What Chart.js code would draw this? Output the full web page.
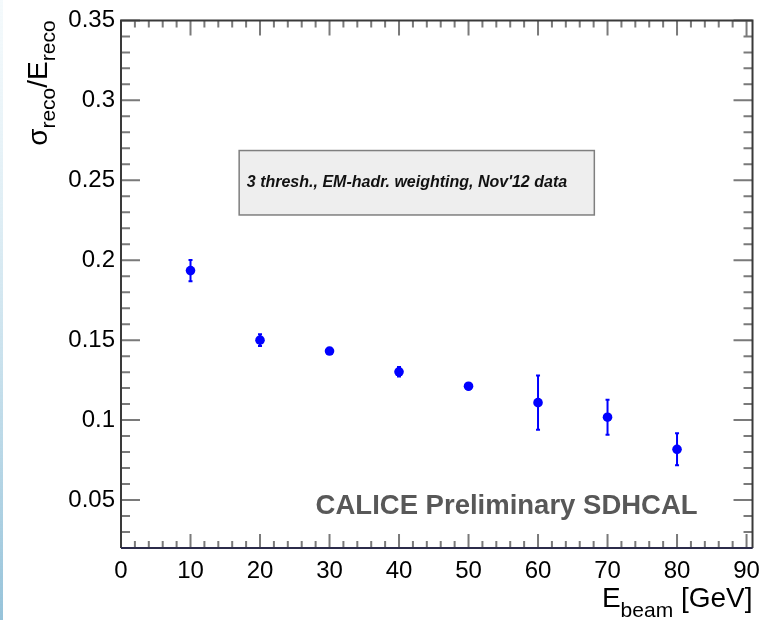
<!DOCTYPE html>
<html>
<head>
<meta charset="utf-8">
<script src="https://cdn.jsdelivr.net/npm/chart.js@4/dist/chart.umd.min.js"></script>
<style>
  html, body { margin: 0; padding: 0; background: #fff; }
  #wrap { width: 769px; height: 620px; }
</style>
</head>
<body>
<div id="wrap"><canvas id="chart" width="769" height="620"></canvas></div>
<script>
// beam energies (GeV) and relative resolution
const energies = [10, 20, 30, 40, 50, 60, 70, 80];
const resolution = [0.1935, 0.150, 0.1432, 0.1302, 0.1212, 0.1109, 0.1018, 0.0817];
const resErrors = [0.0067, 0.0037, 0.0010, 0.0030, 0.0020, 0.0170, 0.0110, 0.0100];

const xTicks = [0, 10, 20, 30, 40, 50, 60, 70, 80, 90];
const yTicks = [0.05, 0.1, 0.15, 0.2, 0.25, 0.3, 0.35];

const FONT = '"Liberation Sans", Arial, Helvetica, sans-serif';

// frame + ROOT-style inner tick marks
const framePlugin = {
  id: 'frame',
  beforeDraw(chart) {
    const ctx = chart.ctx;
    // faint blue strip on the left edge of the screenshot
    const g = ctx.createLinearGradient(0, 0, 0, chart.height);
    g.addColorStop(0, 'rgba(220,238,245,0.3)');
    g.addColorStop(1, 'rgba(150,195,218,1)');
    ctx.save();
    ctx.fillStyle = g;
    ctx.fillRect(0, 0, 3, chart.height);
    ctx.restore();
  },
  afterDraw(chart) {
    const { ctx, chartArea: a } = chart;
    const xs = chart.scales.x, ys = chart.scales.y;
    ctx.save();
    ctx.strokeStyle = '#7a7a7a';
    ctx.lineWidth = 2;
    ctx.beginPath();
    for (let v = 0; v <= 90.001; v += 2) {
      const px = xs.getPixelForValue(v);
      const major = Math.abs(v / 10 - Math.round(v / 10)) < 1e-6;
      ctx.moveTo(px, a.bottom); ctx.lineTo(px, a.bottom - (major ? 14 : 7));
      ctx.moveTo(px, a.top); ctx.lineTo(px, a.top + (major ? 15 : 7));
    }
    for (let i = 2; i <= 35; i++) {
      const v = i / 100;
      const py = ys.getPixelForValue(v);
      const major = i % 5 === 0;
      ctx.moveTo(a.left, py); ctx.lineTo(a.left + (major ? 19 : 9), py);
      ctx.moveTo(a.right, py); ctx.lineTo(a.right - (major ? 19 : 9), py);
    }
    ctx.stroke();

    ctx.lineWidth = 2;
    ctx.strokeStyle = '#3a3a3a';
    ctx.beginPath();
    ctx.moveTo(a.left, a.bottom); ctx.lineTo(a.left, a.top); ctx.lineTo(a.right, a.top); ctx.lineTo(a.right, a.bottom);
    ctx.stroke();
    ctx.strokeStyle = '#2b2b4a';
    ctx.beginPath();
    ctx.moveTo(a.left, a.bottom); ctx.lineTo(a.right, a.bottom);
    ctx.stroke();

    // x title: E_beam [GeV], right aligned to the frame
    ctx.fillStyle = '#000';
    ctx.textBaseline = 'alphabetic';
    const big = '28px ' + FONT, small = '21px ' + FONT;
    ctx.font = big;
    const wE = ctx.measureText('E').width;
    const wG = ctx.measureText(' [GeV]').width;
    ctx.font = small;
    const wB = ctx.measureText('beam').width;
    let x0 = a.right - (wE + wB + wG);
    const base = 607;
    ctx.font = big; ctx.textAlign = 'left';
    ctx.fillText('E', x0, base);
    ctx.font = small; ctx.fillText('beam', x0 + wE, base + 10);
    ctx.font = big; ctx.fillText(' [GeV]', x0 + wE + wB, base);

    // y title: sigma_reco / E_reco, rotated, right aligned to frame top
    ctx.translate(47, a.top);
    ctx.rotate(-Math.PI / 2);
    const parts = [['\u03c3', big, 0], ['reco', small, 8], ['/E', big, 0], ['reco', small, 8]];
    let total = 0;
    parts.forEach(p => { ctx.font = p[1]; total += ctx.measureText(p[0]).width; });
    let cx = -total;
    parts.forEach(p => {
      ctx.font = p[1];
      ctx.fillText(p[0], cx, p[2]);
      cx += ctx.measureText(p[0]).width;
    });
    ctx.restore();
  }
};

// vertical error bars, drawn under the markers
const errorBarPlugin = {
  id: 'errorBars',
  beforeDatasetsDraw(chart) {
    const { ctx } = chart;
    const xs = chart.scales.x, ys = chart.scales.y;
    ctx.save();
    ctx.strokeStyle = '#0000ff';
    ctx.lineWidth = 2;
    energies.forEach((e, i) => {
      const px = xs.getPixelForValue(e);
      const top = ys.getPixelForValue(resolution[i] + resErrors[i]);
      const bot = ys.getPixelForValue(resolution[i] - resErrors[i]);
      ctx.beginPath();
      ctx.moveTo(px, top); ctx.lineTo(px, bot);
      ctx.moveTo(px - 2, top); ctx.lineTo(px + 2, top);
      ctx.moveTo(px - 2, bot); ctx.lineTo(px + 2, bot);
      ctx.stroke();
    });
    ctx.restore();
  }
};

// info box and CALICE label, placed in data coordinates
const labelPlugin = {
  id: 'labels',
  afterDatasetsDraw(chart) {
    const { ctx } = chart;
    const xs = chart.scales.x, ys = chart.scales.y;
    const bx0 = xs.getPixelForValue(17), bx1 = xs.getPixelForValue(68.1);
    const by0 = ys.getPixelForValue(0.2686), by1 = ys.getPixelForValue(0.2283);
    ctx.save();
    ctx.fillStyle = '#eeeeee';
    ctx.fillRect(bx0, by0, bx1 - bx0, by1 - by0);
    ctx.strokeStyle = '#7f7f7f';
    ctx.lineWidth = 1.5;
    ctx.strokeRect(bx0, by0, bx1 - bx0, by1 - by0);
    ctx.fillStyle = '#111';
    ctx.font = 'italic bold 16px ' + FONT;
    ctx.textAlign = 'left';
    ctx.textBaseline = 'middle';
    ctx.fillText("3 thresh., EM-hadr. weighting, Nov'12 data", xs.getPixelForValue(18.1), ys.getPixelForValue(0.2485));

    ctx.fillStyle = '#585858';
    ctx.font = 'bold 27.5px ' + FONT;
    ctx.fillText('CALICE Preliminary SDHCAL', xs.getPixelForValue(28), ys.getPixelForValue(0.0463));
    ctx.restore();
  }
};

new Chart(document.getElementById('chart'), {
  type: 'scatter',
  data: {
    datasets: [{
      data: energies.map((e, i) => ({ x: e, y: resolution[i] })),
      backgroundColor: '#0000ff',
      borderColor: '#0000ff',
      pointRadius: 4.8,
      pointBorderWidth: 0
    }]
  },
  options: {
    responsive: false,
    animation: false,
    layout: { padding: { left: 0, right: 12, top: 18, bottom: 0 } },
    plugins: { legend: { display: false }, tooltip: { enabled: false } },
    scales: {
      x: {
        type: 'linear',
        min: 0,
        max: 90.86,
        grid: { display: false, tickLength: 0 },
        border: { display: false },
        afterBuildTicks: s => { s.ticks = xTicks.map(v => ({ value: v })); },
        afterFit: s => { s.height = 72; },
        ticks: {
          color: '#000',
          padding: 9,
          maxRotation: 0,
          font: { family: FONT, size: 24 },
          callback: v => String(v)
        }
      },
      y: {
        type: 'linear',
        min: 0.02,
        max: 0.35,
        grid: { display: false, tickLength: 0 },
        border: { display: false },
        afterBuildTicks: s => { s.ticks = yTicks.map(v => ({ value: v })); },
        afterFit: s => { s.width = 121; },
        ticks: {
          color: '#000',
          padding: 6,
          font: { family: FONT, size: 24 },
          callback: v => String(+v.toFixed(2))
        }
      }
    }
  },
  plugins: [framePlugin, errorBarPlugin, labelPlugin]
});
</script>
</body>
</html>
